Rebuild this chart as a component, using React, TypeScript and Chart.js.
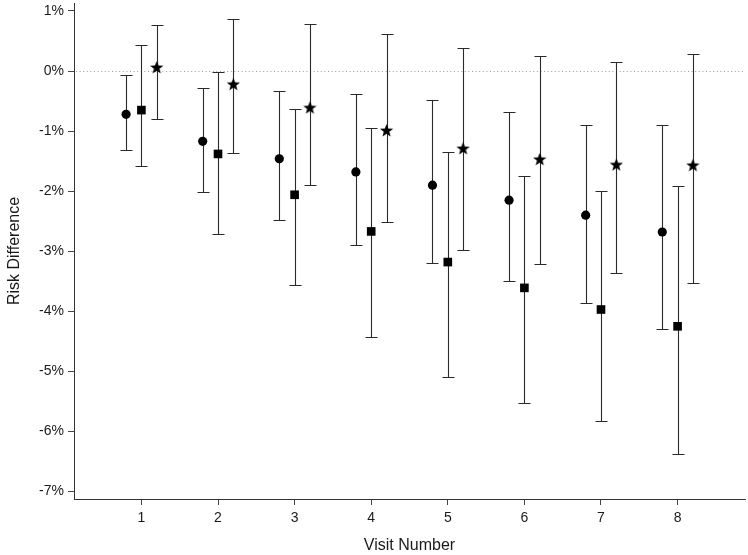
import React, { useEffect, useRef } from "react";
import { Chart, registerables } from "chart.js";

Chart.register(...registerables);

// ---- data (risk difference, %) ----
const visits = [1, 2, 3, 4, 5, 6, 7, 8];
const yTickValues = [1, 0, -1, -2, -3, -4, -5, -6, -7];

const circleEst = [-0.72, -1.17, -1.46, -1.68, -1.9, -2.15, -2.4, -2.68];
const circleLow = [-1.31, -2.02, -2.48, -2.89, -3.2, -3.49, -3.86, -4.3];
const circleHigh = [-0.06, -0.28, -0.34, -0.39, -0.48, -0.68, -0.9, -0.9];

const squareEst = [-0.65, -1.38, -2.06, -2.67, -3.18, -3.61, -3.97, -4.25];
const squareLow = [-1.58, -2.72, -3.56, -4.42, -5.1, -5.53, -5.83, -6.38];
const squareHigh = [0.43, -0.01, -0.64, -0.95, -1.35, -1.75, -2.0, -1.91];

const starEst = [0.06, -0.22, -0.61, -0.99, -1.29, -1.47, -1.56, -1.57];
const starLow = [-0.79, -1.36, -1.9, -2.51, -2.98, -3.22, -3.37, -3.53];
const starHigh = [0.77, 0.86, 0.78, 0.62, 0.39, 0.25, 0.15, 0.28];

const FONT = "'Liberation Sans', Arial, sans-serif";
const INK = "#1a1a1a";

function makeStar(): HTMLCanvasElement {
  const c = document.createElement("canvas");
  c.width = 15;
  c.height = 15;
  const ctx = c.getContext("2d")!;
  const cx = 7.5, cy = 7.9, R = 7, r = 2.9;
  ctx.beginPath();
  for (let i = 0; i < 10; i++) {
    const rad = i % 2 === 0 ? R : r;
    const a = -Math.PI / 2 + (i * Math.PI) / 5;
    const px = cx + rad * Math.cos(a);
    const py = cy + rad * Math.sin(a);
    if (i === 0) ctx.moveTo(px, py);
    else ctx.lineTo(px, py);
  }
  ctx.closePath();
  ctx.fillStyle = "#000";
  ctx.fill();
  return c;
}

export default function App() {
  const ref = useRef<HTMLCanvasElement | null>(null);

  useEffect(() => {
    document.body.style.margin = "0";
    const canvas = ref.current;
    if (!canvas) return;

    const series = [
      { est: circleEst, low: circleLow, high: circleHigh, offset: -0.2, style: "circle" as any, radius: 4.6 },
      { est: squareEst, low: squareLow, high: squareHigh, offset: 0, style: "rect" as any, radius: 6.1 },
      { est: starEst, low: starLow, high: starHigh, offset: 0.2, style: makeStar() as any, radius: 7 },
    ];

    const errorBars = {
      id: "errorBars",
      beforeDatasetsDraw(chart: any) {
        const { ctx, chartArea, scales } = chart;
        const xs = scales.x, ys = scales.y;
        ctx.save();
        // dotted zero line
        ctx.strokeStyle = "#9a9a9a";
        ctx.lineWidth = 1;
        ctx.setLineDash([1, 2.6]);
        const y0 = Math.round(ys.getPixelForValue(0)) + 0.5;
        ctx.beginPath();
        ctx.moveTo(chartArea.left + 2, y0);
        ctx.lineTo(chartArea.right, y0);
        ctx.stroke();
        ctx.setLineDash([]);
        // error bars
        ctx.strokeStyle = "#2a2a2a";
        ctx.lineWidth = 1.1;
        series.forEach((s) => {
          visits.forEach((v, j) => {
            const x = Math.round(xs.getPixelForValue(v + s.offset)) + 0.5;
            const yl = Math.round(ys.getPixelForValue(s.low[j])) + 0.5;
            const yh = Math.round(ys.getPixelForValue(s.high[j])) + 0.5;
            ctx.beginPath();
            ctx.moveTo(x, yl);
            ctx.lineTo(x, yh);
            ctx.moveTo(x - 6, yl);
            ctx.lineTo(x + 6, yl);
            ctx.moveTo(x - 6, yh);
            ctx.lineTo(x + 6, yh);
            ctx.stroke();
          });
        });
        ctx.restore();
      },
    };

    const chart = new Chart(canvas, {
      type: "scatter",
      data: {
        datasets: series.map((s) => ({
          data: visits.map((v, j) => ({ x: v + s.offset, y: s.est[j] })),
          pointStyle: s.style,
          pointRadius: s.radius,
          pointHoverRadius: s.radius,
          backgroundColor: "#000",
          borderColor: "#000",
          borderWidth: 0,
          showLine: false,
        })),
      },
      options: {
        responsive: false,
        animation: false,
        layout: { autoPadding: false, padding: { top: 3, right: 3, left: 0, bottom: 0 } },
        plugins: { legend: { display: false }, tooltip: { enabled: false } },
        scales: {
          x: {
            type: "linear",
            min: 0.12,
            max: 8.88,
            afterBuildTicks: (scale: any) => {
              scale.ticks = visits.map((v) => ({ value: v }));
            },
            afterFit: (scale: any) => {
              scale.height = 56;
              scale.paddingLeft = 0;
              scale.paddingRight = 0;
            },
            border: { color: "#333", width: 1 },
            grid: { drawOnChartArea: false, drawTicks: true, tickLength: 6, color: "#444" },
            ticks: {
              color: INK,
              font: { family: FONT, size: 14 },
              padding: 5,
              maxRotation: 0,
              callback: (v: any) => String(v),
            },
            title: {
              display: true,
              text: "Visit Number",
              color: INK,
              font: { family: FONT, size: 16 },
              padding: { top: 4, bottom: 0 },
            },
          },
          y: {
            type: "linear",
            min: -7.125,
            max: 1.133,
            afterBuildTicks: (scale: any) => {
              scale.ticks = yTickValues.map((v) => ({ value: v }));
            },
            afterFit: (scale: any) => {
              scale.width = 74;
              scale.paddingTop = 0;
              scale.paddingBottom = 0;
            },
            border: { color: "#333", width: 1 },
            grid: { drawOnChartArea: false, drawTicks: true, tickLength: 6, color: "#444" },
            ticks: {
              color: INK,
              font: { family: FONT, size: 14 },
              padding: 4,
              callback: (v: any) => `${v}%`,
            },
            title: {
              display: true,
              text: "Risk Difference",
              color: INK,
              font: { family: FONT, size: 16 },
              padding: { top: 5, bottom: 4 },
            },
          },
        },
      },
      plugins: [errorBars],
    });

    return () => chart.destroy();
  }, []);

  return (
    <div style={{ width: 748, height: 555, background: "#fff" }}>
      <canvas ref={ref} width={748} height={555} style={{ display: "block" }} />
    </div>
  );
}
